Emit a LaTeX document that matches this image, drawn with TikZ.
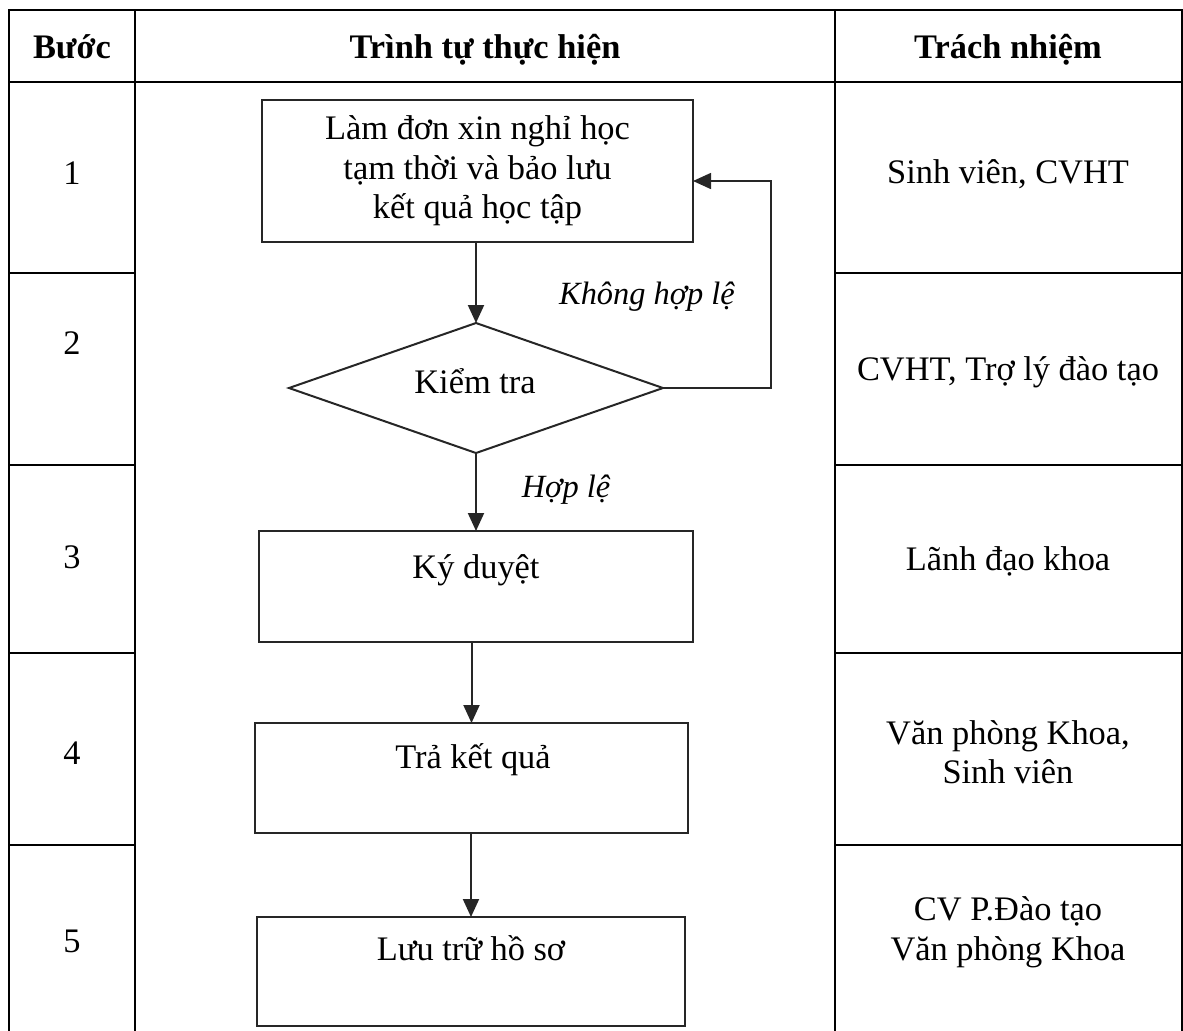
\documentclass[tikz,border=0pt]{standalone}
\usepackage{fontspec}
\setmainfont{Liberation Serif}
\usepackage{tikz}
\usetikzlibrary{arrows.meta}
\usetikzlibrary{shapes.geometric}
\usetikzlibrary{calc}
\definecolor{boxcolor}{HTML}{262626}

\begin{document}
\begin{tikzpicture}[x=0.5pt,y=-0.5pt,
    every node/.style={font=\fontsize{17.2}{19.8}\selectfont, inner sep=0pt, outer sep=0pt},
    header/.style={font=\fontsize{17.2}{19.8}\selectfont\bfseries, anchor=base},
    cell/.style={align=center, anchor=base},
    cellblock/.style={align=center, anchor=center},
    note/.style={font=\fontsize{16.2}{19}\selectfont\itshape, anchor=base},
    stepbox/.style={draw=boxcolor, line width=1pt, rectangle, align=center},
    checkbox/.style={draw=boxcolor, line width=1pt, diamond},
    flow/.style={draw=boxcolor, line width=1pt, -{Triangle[length=9pt,width=8pt]}},
    grid/.style={black, line width=1.35pt}]
\useasboundingbox (0,0) rectangle (1183,1030);

%% table frame
\draw[grid] (9,1032) -- (9,10) -- (1182,10) -- (1182,1032);
\draw[grid] (9,82) -- (1182,82);
\foreach \x in {135, 835}
    \draw[grid] (\x,10) -- (\x,1032);
\foreach \y in {273, 465, 653, 845}
  {
    \draw[grid] (9,\y) -- (135,\y);
    \draw[grid] (835,\y) -- (1182,\y);
  }

%% header row
\node[header] (hstep) at (72,58) {Bước};
\node[header] (hflow) at (485,58) {Trình tự thực hiện};
\node[header] (hresp) at (1008,58) {Trách nhiệm};

%% step numbers
\foreach \n/\y in {1/184, 2/354, 3/568, 4/764, 5/952}
    \node[cell] (step\n) at (72,\y) {\n};

%% responsibilities
\node[cell] (resp1) at (1008,183) {Sinh viên, CVHT};
\node[cell] (resp2) at (1008,380) {CVHT, Trợ lý đào tạo};
\node[cell] (resp3) at (1008,570) {Lãnh đạo khoa};
\node[cellblock] (resp4) at (1008,752) {Văn phòng Khoa,\\Sinh viên};
\node[cellblock] (resp5) at (1008,932) {CV P.Đào tạo\\Văn phòng Khoa};

%% flow chart
\node[stepbox, minimum width=215.5pt, minimum height=71pt] (request) at (477.5,171)
    {Làm đơn xin nghỉ học\\tạm thời và bảo lưu\\kết quả học tập};
\node[checkbox, minimum width=187pt, minimum height=65pt] (check) at (476,388) {};
\node[cell] (checktext) at (475,393) {Kiểm tra};
\node[stepbox, minimum width=217pt, minimum height=55.5pt] (sign) at (476,586.5) {};
\node[cell] (signtext) at (476,578) {Ký duyệt};
\node[stepbox, minimum width=216.5pt, minimum height=55pt] (result) at (471.5,778) {};
\node[cell] (resulttext) at (473,768) {Trả kết quả};
\node[stepbox, minimum width=214pt, minimum height=54.5pt] (archive) at (471,971.5) {};
\node[cell] (archivetext) at (471,960) {Lưu trữ hồ sơ};

\node[note] (invalid) at (647,304) {Không hợp lệ};
\node[note] (valid) at (566,497) {Hợp lệ};

\coordinate (back) at (771,181);
\draw[flow] (check.north |- request.south) -- (check.north);
\draw[flow] (check.south) -- (check.south |- sign.north);
\draw[flow] (result.north |- sign.south) -- (result.north);
\draw[flow] (archive.north |- result.south) -- (archive.north);
\draw[flow, line width=0.8pt] (check.east) -| (back) -- (request.east |- back);
\end{tikzpicture}
\end{document}
